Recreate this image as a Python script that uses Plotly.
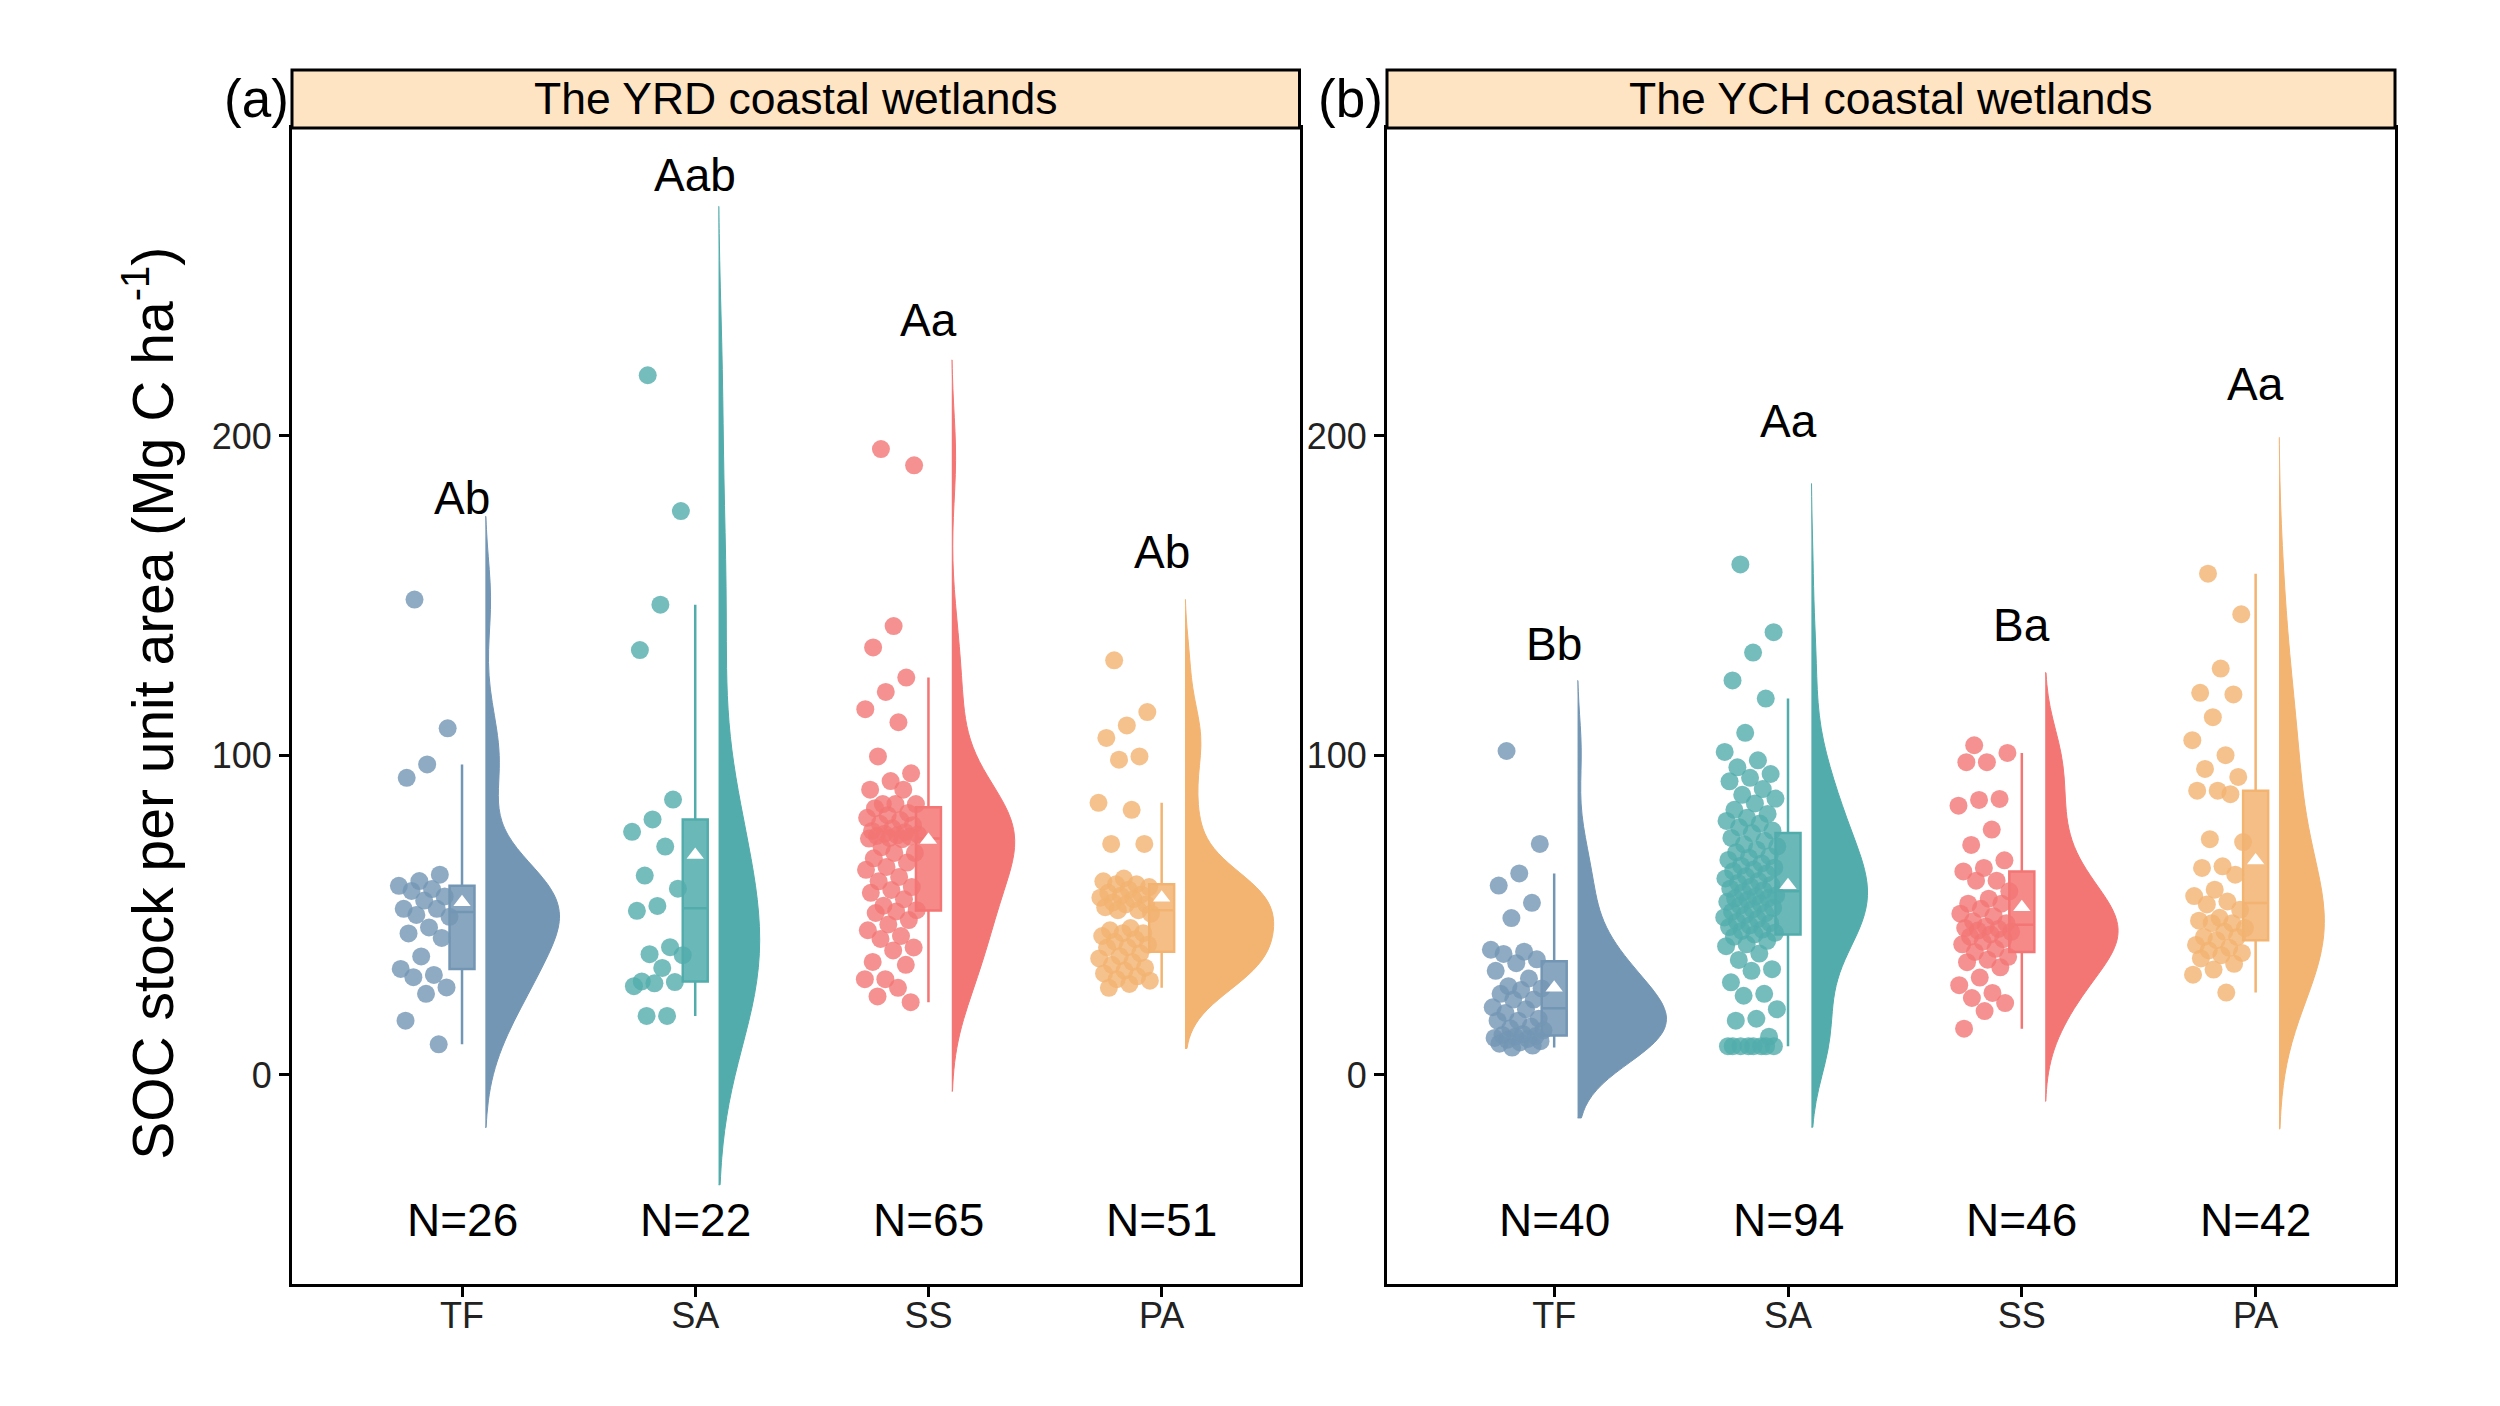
import numpy as np
import plotly.graph_objects as go

# ---------------- data ----------------
categories = ["TF", "SA", "SS", "PA"]
panel_titles = ["The YRD coastal wetlands", "The YCH coastal wetlands"]
panel_tags = ["(a)", "(b)"]
colors = ["#7396B4", "#51ACAB", "#F37674", "#F3B371"]

yrd_tf = [148.8, 108.5, 97.2, 93.0, 62.7, 60.7, 59.2, 58.2, 57.6, 55.9, 54.6, 52.0, 52.0,
          50.1, 49.5, 46.2, 44.3, 42.9, 37.1, 33.2, 31.3, 30.6, 27.4, 25.4, 17.0, 9.6]
yrd_sa = [219.0, 176.5, 147.2, 133.0, 86.2, 80.0, 76.1, 71.5, 62.4, 58.3, 52.9, 51.4, 40.0,
          37.8, 37.5, 33.5, 29.3, 29.1, 28.7, 27.8, 18.5, 18.5]
yrd_ss = [195.9, 190.8, 140.5, 133.8, 124.4, 119.9, 114.5, 110.4, 99.7, 94.4,
          92.0, 89.3, 89.3, 84.8, 84.8, 84.8, 83.5, 82.0, 81.3, 80.5,
          79.8, 78.6, 78.2, 77.2, 76.4, 76.0, 75.5, 75.3, 75.0, 74.8,
          74.6, 74.2, 74.0, 73.8, 71.3, 69.5, 69.5, 67.8, 66.5, 65.1,
          64.2, 62.0, 60.6, 58.8, 57.9, 57.0, 55.0, 53.0, 51.6, 51.2,
          50.7, 48.5, 47.1, 45.3, 43.5, 42.6, 39.9, 39.0, 35.4, 34.5,
          30.0, 30.0, 27.3, 24.6, 22.8]
yrd_pa = [129.8, 113.6, 109.4, 105.5, 99.7, 98.7, 85.2, 83.0, 72.3, 72.3, 61.5, 60.6,
          59.7, 59.7, 58.8, 58.0, 57.0, 56.5, 56.1, 55.5, 55.0, 54.0, 53.4, 53.4,
          52.5, 51.6, 51.6, 50.5, 46.0, 45.3, 44.4, 44.4,
          43.5, 42.5, 41.7, 40.8, 40.0, 39.9,
          38.1, 37.2, 36.5, 35.4, 34.5, 33.6, 32.7, 31.8, 30.9, 30.0, 29.5, 28.5, 27.3]

ych_tf = [101.4, 72.3, 63.1, 59.3, 53.9, 49.1, 39.2, 38.6, 37.9, 36.2,
          35.0, 32.6, 30.2, 27.8, 27.1, 26.6, 25.4, 23.6, 23.6, 21.2,
          20.6, 19.4, 17.6, 17.0, 17.0, 15.2, 14.6, 14.0, 12.8, 12.5,
          12.2, 12.0, 11.6, 11.3, 11.0, 10.6, 10.2, 9.8, 9.2, 8.6]
ych_sa = [159.8, 138.6, 132.2, 123.5, 117.8, 107.1, 101.1, 98.5, 96.3, 94.2,
          93.0, 91.9, 89.5, 87.7, 86.5, 85.0, 83.0, 81.7, 80.5, 79.5,
          78.7, 77.5, 76.5, 75.7,
          74.2, 73.3, 72.2, 71.5, 70.5, 69.7, 68.5, 68.0, 67.3, 66.2,
          65.5, 64.9, 64.3, 63.8, 63.1, 62.2, 61.5, 60.7, 60.1, 59.5,
          58.9, 58.3, 57.8, 57.2, 56.2, 55.9, 55.3, 55.3, 54.8, 54.2,
          53.6, 53.0, 52.3, 51.8, 51.1, 50.6, 50.0, 49.3, 48.8, 48.0,
          47.5, 46.8, 46.3, 45.5, 45.1, 44.5, 44.0,
          43.3, 42.0, 40.9, 40.3, 38.0, 36.0, 33.1, 32.6, 29.0, 25.4,
          24.8, 20.6, 17.6, 17.0, 12.0, 9.0, 9.0, 9.0, 9.0, 9.0, 9.0, 9.0, 9.0]
ych_ss = [103.2, 100.8, 97.9, 97.9, 86.4, 86.1, 84.3, 76.8, 72.0, 67.2, 64.8, 63.7,
          60.8, 60.8, 57.5, 55.2, 53.6, 53.6, 52.0, 50.5, 49.7, 48.1,
          47.5, 46.5, 46.0, 45.7, 45.2, 44.8, 44.0, 43.3, 42.5, 41.7,
          40.9, 39.5, 38.5,
          37.0, 36.1, 35.3, 33.7, 30.5, 28.1, 25.7, 24.1, 22.5, 20.0, 14.5]
ych_pa = [156.9, 144.2, 127.2, 119.6, 119.1, 112.0, 104.8, 100.1, 95.8, 93.3,
          89.0, 89.0, 87.9, 73.8, 72.9, 65.3, 64.8, 62.7, 58.0, 56.0,
          54.3, 53.4, 51.7, 49.2, 48.3, 47.5, 47.5, 46.0, 44.9, 43.2, 43.2, 42.2,
          40.7, 39.8, 39.0, 38.2, 37.5, 36.5, 34.8, 33.0, 31.4, 25.8]

yrd_letters = ["Ab", "Aab", "Aa", "Ab"]
yrd_letter_y = [180.6, 281.6, 236.3, 163.7]
ych_letters = ["Bb", "Aa", "Ba", "Aa"]
ych_letter_y = [134.8, 204.6, 140.7, 216.3]

panels = [
    dict(data=[yrd_tf, yrd_sa, yrd_ss, yrd_pa], letters=yrd_letters, letter_y=yrd_letter_y),
    dict(data=[ych_tf, ych_sa, ych_ss, ych_pa], letters=ych_letters, letter_y=ych_letter_y),
]

# ---------------- helpers ----------------
FONT = "Liberation Sans"


def rgba(hex_color, a):
    h = hex_color.lstrip("#")
    r, g, b = int(h[0:2], 16), int(h[2:4], 16), int(h[4:6], 16)
    return f"rgba({r},{g},{b},{a})"


def nrd0(v):
    v = np.asarray(v, float)
    sd = v.std(ddof=1)
    q75, q25 = np.percentile(v, [75, 25])
    lo = min(sd, (q75 - q25) / 1.34)
    return 0.9 * lo * len(v) ** -0.2


def peak_density(v, bw, lo, hi):
    v = np.asarray(v, float)
    grid = np.linspace(lo, hi, 600)
    d = np.exp(-0.5 * ((grid[:, None] - v[None, :]) / bw) ** 2).sum(1)
    d /= len(v) * bw * np.sqrt(2 * np.pi)
    return d.max()


def jitter_offsets(n, half_width):
    # deterministic, evenly spread horizontal jitter (golden-ratio sequence)
    k = np.arange(n)
    return ((k * 0.6180339887 + 0.31) % 1.0 - 0.5) * 2 * half_width


# layout geometry (paper fractions)
x_domains = [[0.1168, 0.5198], [0.5548, 0.9580]]
x_ranges = [[0.271, 4.591], [0.285, 4.596]]
y_domain = [0.0868, 0.9090]
y_range = [-65.4, 296.4]
strip_top = 0.9502

VIOLIN_NUDGE = 0.10
POINT_NUDGE = -0.16
POINT_HALF_SPREAD = 0.115
MAX_HALF_WIDTH = 0.38
SMOOTH = 1.45

fig = go.Figure()
annotations = []
shapes = []

for p, panel in enumerate(panels):
    xa = "x" if p == 0 else "x2"
    ya = "y" if p == 0 else "y2"
    bws = [nrd0(v) for v in panel["data"]]
    spans = [[min(v) - 3 * bw, max(v) + 3 * bw] for v, bw in zip(panel["data"], bws)]
    peaks = [peak_density(v, SMOOTH * bw, s[0], s[1])
             for v, bw, s in zip(panel["data"], bws, spans)]
    pmax = max(peaks)
    for i, v in enumerate(panel["data"]):
        pos = i + 1
        col = colors[i]
        n = len(v)
        bw = bws[i]
        half = MAX_HALF_WIDTH * peaks[i] / pmax
        # half violin
        fig.add_trace(go.Violin(
            x=[pos + VIOLIN_NUDGE] * n, y=v, orientation="v", side="positive",
            width=2 * half, scalemode="width", bandwidth=SMOOTH * bw,
            spanmode="manual", span=spans[i],
            points=False, box_visible=False, meanline_visible=False,
            fillcolor=col, line=dict(color=col, width=1), opacity=1,
            xaxis=xa, yaxis=ya, showlegend=False, hoverinfo="skip"))
        # jittered points
        fig.add_trace(go.Scatter(
            x=pos + POINT_NUDGE + jitter_offsets(n, POINT_HALF_SPREAD), y=v,
            mode="markers",
            marker=dict(color=rgba(col, 0.8), size=18, line=dict(width=0)),
            xaxis=xa, yaxis=ya, showlegend=False, hoverinfo="skip"))
        # box plot
        fig.add_trace(go.Box(
            x=[pos] * n, y=v, orientation="v", width=0.107,
            boxpoints="outliers", marker=dict(opacity=0, size=1),
            fillcolor=rgba(col, 0.85), line=dict(color=col, width=2.5),
            whiskerwidth=0, xaxis=xa, yaxis=ya, showlegend=False, hoverinfo="skip"))
        # mean triangle
        fig.add_trace(go.Scatter(
            x=[pos], y=[float(np.mean(v))], mode="markers",
            marker=dict(symbol="triangle-up", size=15, color="white", line=dict(width=0)),
            xaxis=xa, yaxis=ya, showlegend=False, hoverinfo="skip"))
        # significance letters
        annotations.append(dict(
            x=pos, y=panel["letter_y"][i], xref=xa, yref=ya, text=panel["letters"][i],
            showarrow=False, font=dict(family=FONT, size=46, color="black"),
            xanchor="center", yanchor="middle"))
        # N labels
        annotations.append(dict(
            x=pos, y=-45.5, xref=xa, yref=ya, text=f"N={n}",
            showarrow=False, font=dict(family=FONT, size=46, color="black"),
            xanchor="center", yanchor="middle"))

    # strip
    d0, d1 = x_domains[p]
    shapes.append(dict(type="rect", xref="paper", yref="paper", x0=d0, x1=d1,
                       y0=y_domain[1], y1=strip_top, fillcolor="#FFE4C4",
                       line=dict(color="black", width=3), layer="above"))
    annotations.append(dict(x=(d0 + d1) / 2, y=(y_domain[1] + strip_top) / 2,
                            xref="paper", yref="paper", text=panel_titles[p],
                            showarrow=False, font=dict(family=FONT, size=44.5, color="black"),
                            xanchor="center", yanchor="middle"))
    annotations.append(dict(x=d0 - 0.0006, y=(y_domain[1] + strip_top) / 2,
                            xref="paper", yref="paper", text=panel_tags[p],
                            showarrow=False, font=dict(family=FONT, size=53, color="black"),
                            xanchor="right", yanchor="middle"))

# y title
annotations.append(dict(x=0.0595, y=0.50, xref="paper", yref="paper",
                        text="SOC stock per unit area (Mg C ha<sup>-1</sup>)",
                        textangle=-90, showarrow=False,
                        font=dict(family=FONT, size=57, color="black"),
                        xanchor="center", yanchor="middle"))

axis_common = dict(showline=True, linecolor="black", linewidth=3, mirror=True,
                   ticks="outside", ticklen=10, tickwidth=3, tickcolor="black",
                   showgrid=False, zeroline=False,
                   tickfont=dict(family=FONT, size=36, color="#222222"))

fig.update_layout(
    width=2500, height=1406, margin=dict(l=0, r=0, t=0, b=0),
    paper_bgcolor="white", plot_bgcolor="white",
    boxmode="overlay", violinmode="overlay", showlegend=False,
    xaxis=dict(domain=x_domains[0], range=x_ranges[0], tickvals=[1, 2, 3, 4],
               ticktext=categories, anchor="y", ticklabelstandoff=-12, **axis_common),
    yaxis=dict(domain=y_domain, range=y_range, tickvals=[0, 100, 200], anchor="x",
               **axis_common),
    xaxis2=dict(domain=x_domains[1], range=x_ranges[1], tickvals=[1, 2, 3, 4],
                ticktext=categories, anchor="y2", ticklabelstandoff=-12, **axis_common),
    yaxis2=dict(domain=y_domain, range=y_range, tickvals=[0, 100, 200], anchor="x2",
                **axis_common),
    annotations=annotations, shapes=shapes,
    font=dict(family=FONT),
)

fig.write_html("out.html",
               config={"displayModeBar": False},
               post_script="document.body.style.margin='0';document.body.style.overflow='hidden';")
